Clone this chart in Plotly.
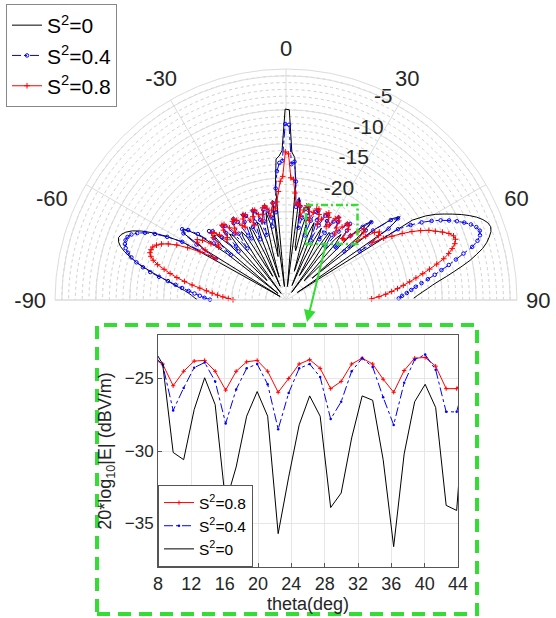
import plotly.graph_objects as go

W, H = 556, 618
FONT = "Arial, 'Liberation Sans', sans-serif"

# ---------------- data ----------------
# angular sampling grid (deg), uniform step read from the inset markers
THETA = [round(8.56 + 1.26 * k, 2) for k in range(-78, 65)]

# 20*log10|E| (dBV/m) for each angle
E_S0 = [
    -24.9, -24.5, -24.1, -23.6, -23.0, -22.2, -21.3, -20.4, -19.2, -17.9,
    -16.6, -15.3, -14.2, -13.2, -12.4, -11.9, -11.7, -11.9, -12.4, -13.2,
    -14.4, -16.0, -18.0, -20.5, -37.0, -24.0, -20.2, -19.6, -20.6, -22.5,
    -27.0, -36.5, -25.5, -23.8, -24.0, -26.5, -34.0, -33.5, -27.5, -25.2,
    -25.8, -29.5, -36.8, -30.5, -26.8, -26.0, -27.2, -32.5, -34.0, -28.0,
    -26.0, -26.6, -30.8, -35.8, -28.5, -25.8, -26.2, -29.0, -34.5, -30.5,
    -26.5, -24.8, -26.5, -31.5, -30.0, -23.2, -36.0, -21.2, -17.2, -16.8,
    -16.0, -9.9, -10.0, -16.2, -17.0, -21.0, -36.0, -22.8, -24.0, -30.1,
    -30.6, -27.15, -24.95, -26.8, -33.6, -31.1, -27.6, -25.9, -27.6, -35.7,
    -31.8, -28.2, -26.2, -27.6, -33.9, -32.9, -29.1, -26.2, -26.5, -30.6,
    -36.6, -30.2, -26.6, -25.4, -27.0, -33.75, -34.1, -24.5, -21.8, -20.8,
    -23.5, -33.0, -21.5, -18.2, -17.2, -19.8, -36.0, -16.0, -14.0, -12.6,
    -11.5, -10.4, -9.3, -8.3, -7.4, -6.7, -6.2, -6.0, -6.2, -6.7,
    -7.3, -8.1, -9.2, -10.3, -11.6, -12.9, -14.1, -15.3, -16.3, -17.1,
    -17.9, -18.6, -19.2,
]
E_S04 = [
    -26.8, -26.0, -25.3, -24.5, -23.6, -22.6, -21.6, -20.4, -19.0, -17.6,
    -16.4, -15.3, -14.4, -13.7, -13.2, -12.9, -12.8, -12.9, -13.3, -14.0,
    -15.0, -16.4, -18.2, -20.5, -26.0, -22.5, -20.0, -19.5, -20.3, -21.8,
    -24.5, -27.5, -24.0, -22.8, -23.2, -24.8, -28.0, -27.2, -24.8, -23.6,
    -23.9, -25.6, -28.5, -26.0, -24.3, -23.8, -24.5, -27.0, -27.6, -25.0,
    -24.0, -24.3, -26.2, -28.3, -25.6, -24.0, -24.2, -25.6, -28.0, -26.0,
    -24.3, -23.9, -24.6, -27.0, -25.8, -23.6, -25.0, -21.5, -19.0, -17.8,
    -17.5, -12.1, -12.2, -18.0, -17.6, -20.5, -24.2, -23.3, -24.05, -27.2,
    -25.65, -24.25, -23.9, -25.2, -28.1, -25.75, -24.3, -24.0, -25.4, -28.5,
    -26.0, -24.3, -24.0, -24.9, -27.8, -26.6, -24.5, -23.6, -24.2, -26.3,
    -28.2, -25.3, -23.7, -23.35, -24.4, -27.3, -27.3, -24.6, -22.4, -21.0,
    -22.4, -26.8, -21.6, -18.6, -17.6, -19.6, -25.0, -18.5, -16.6, -15.0,
    -13.6, -12.4, -11.3, -10.3, -9.4, -8.6, -8.0, -7.7, -7.9, -8.5,
    -9.5, -11.0, -12.3, -13.5, -14.7, -15.8, -16.9, -17.9, -18.8, -19.5,
    -20.2, -20.9, -21.4,
]
E_S08 = [
    -30.2, -29.5, -28.7, -27.9, -27.1, -26.2, -25.2, -24.0, -22.8, -21.6,
    -20.5, -19.5, -18.4, -17.6, -17.1, -16.8, -16.8, -16.9, -17.3, -17.9,
    -18.8, -20.0, -21.6, -23.5, -26.0, -24.0, -22.4, -22.2, -22.9, -24.2,
    -25.4, -25.2, -23.9, -23.3, -23.5, -24.3, -25.6, -25.4, -24.2, -23.5,
    -23.6, -24.5, -25.7, -25.0, -24.0, -23.8, -24.2, -25.3, -25.7, -24.5,
    -23.9, -24.1, -25.1, -26.0, -24.8, -23.9, -24.0, -24.8, -25.9, -24.9,
    -24.0, -23.8, -24.2, -25.4, -24.6, -23.6, -24.5, -23.5, -22.0, -20.5,
    -19.8, -16.2, -16.5, -20.0, -20.2, -22.2, -23.8, -23.6, -24.0, -25.5,
    -24.5, -23.8, -23.75, -24.5, -25.8, -24.5, -23.85, -23.75, -24.5, -25.95,
    -25.0, -24.0, -23.7, -24.3, -25.7, -25.2, -24.0, -23.6, -24.0, -25.05,
    -25.95, -24.45, -23.6, -23.55, -24.15, -25.7, -25.7, -24.6, -23.5, -22.5,
    -22.8, -24.5, -23.0, -21.6, -21.0, -21.4, -22.8, -21.0, -19.8, -18.3,
    -16.9, -15.7, -14.6, -13.8, -12.9, -12.1, -11.6, -11.5, -11.8, -12.4,
    -13.1, -14.0, -15.2, -16.4, -17.5, -18.6, -19.6, -20.6, -21.5, -22.4,
    -23.3, -24.3, -25.4,
]
assert len(THETA) == len(E_S0) == len(E_S04) == len(E_S08)

SERIES_NAMES = ["S<sup>2</sup>=0", "S<sup>2</sup>=0.4", "S<sup>2</sup>=0.8"]
ANG_GRID = [-90, -60, -30, 0, 30, 60, 90]            # spokes
ANG_LABELS = ["-90", "-60", "-30", "0", "30", "60", "90"]
ANG_LABEL_POS = [-90, -65.5, -27, 0, 27, 65.5, 90]   # where MATLAB drew the labels
R_TICKS = [-35, -30, -25, -20, -15, -10, -5]
R_LABELS = [-20, -15, -10, -5]
R_LABEL_ANGLE = 25.7
R_RANGE = [-38, -4]
INSET_X_RANGE = [8, 44]
INSET_X_TICKS = [8, 12, 16, 20, 24, 28, 32, 36, 40, 44]
INSET_Y_RANGE = [-38, -22]
INSET_Y_TICKS = [-35, -30, -25]

# ---------------- helpers (pixel -> paper) ----------------
def px(x):
    return x / W

def py(y):
    return 1 - y / H

GREEN = "#33DD33"
GRID = "#dcdcdc"
TXT = "#262626"

fig = go.Figure()

# dummy trace so the grid-only polar subplot is drawn
fig.add_trace(go.Scatterpolar(r=[R_RANGE[0]], theta=[0], mode="lines",
                              line=dict(width=0), showlegend=False,
                              hoverinfo="skip", subplot="polar"))

# polar traces
fig.add_trace(go.Scatterpolar(r=E_S0, theta=THETA, mode="lines", name=SERIES_NAMES[0],
                              line=dict(color="black", width=1),
                              subplot="polar2", legend="legend"))
fig.add_trace(go.Scatterpolar(r=E_S04, theta=THETA, mode="lines+markers", name=SERIES_NAMES[1],
                              line=dict(color="#0000ff", width=1, dash="dashdot"),
                              marker=dict(symbol="circle-open", size=3.5, color="#0000ff",
                                          line=dict(width=1)),
                              subplot="polar2", legend="legend"))
fig.add_trace(go.Scatterpolar(r=E_S08, theta=THETA, mode="lines+markers", name=SERIES_NAMES[2],
                              line=dict(color="#ff0000", width=1),
                              marker=dict(symbol="cross-thin-open", size=4, color="#ff0000",
                                          line=dict(width=1, color="#ff0000")),
                              subplot="polar2", legend="legend"))

# radial tick labels, centred on their rings like MATLAB draws them
fig.add_trace(go.Scatterpolar(r=R_LABELS, theta=[R_LABEL_ANGLE] * len(R_LABELS),
                              mode="text", text=[str(v) for v in R_LABELS],
                              textposition="middle center",
                              textfont=dict(size=21, color=TXT, family=FONT),
                              showlegend=False, hoverinfo="skip", cliponaxis=False,
                              subplot="polar2"))

# inset (cartesian) traces, order as in inset legend
fig.add_trace(go.Scatter(x=THETA, y=E_S08, mode="lines+markers", name=SERIES_NAMES[2],
                         line=dict(color="#ff0000", width=1),
                         marker=dict(symbol="cross-thin-open", size=3,
                                     line=dict(width=1, color="#ff0000")),
                         xaxis="x", yaxis="y", legend="legend2"))
fig.add_trace(go.Scatter(x=THETA, y=E_S04, mode="lines+markers", name=SERIES_NAMES[1],
                         line=dict(color="#0000ff", width=1, dash="dashdot"),
                         marker=dict(symbol="circle", size=2.5, color="#0000ff"),
                         xaxis="x", yaxis="y", legend="legend2"))
fig.add_trace(go.Scatter(x=THETA, y=E_S0, mode="lines", name=SERIES_NAMES[0],
                         line=dict(color="black", width=1),
                         xaxis="x", yaxis="y", legend="legend2"))

pol_dom = dict(x=[px(286 - 231), px(286 + 231)], y=[py(300), py(300 - 231)])

fig.update_layout(
    width=W, height=H,
    margin=dict(l=0, r=0, t=0, b=0, autoexpand=False),
    paper_bgcolor="white", plot_bgcolor="white",
    font=dict(family=FONT, color=TXT),
    polar=dict(
        domain=pol_dom, sector=[0, 180], bgcolor="white",
        radialaxis=dict(range=R_RANGE, tickmode="linear", tick0=-38, dtick=1,
                        showticklabels=False, ticks="", showline=False,
                        showgrid=True, gridcolor="#cfcfcf", griddash="dot", gridwidth=1),
        angularaxis=dict(rotation=90, direction="clockwise", tickmode="array",
                         tickvals=ANG_GRID, showticklabels=False, ticks="",
                         showgrid=True, gridcolor=GRID, gridwidth=1, showline=False),
    ),
    polar2=dict(
        domain=pol_dom, sector=[0, 180], bgcolor="rgba(0,0,0,0)",
        radialaxis=dict(range=R_RANGE, tickmode="array", tickvals=R_TICKS,
                        showticklabels=False, showline=False, ticks="",
                        showgrid=True, gridcolor=GRID, gridwidth=1),
        angularaxis=dict(rotation=90, direction="clockwise", tickmode="array",
                         tickvals=ANG_LABEL_POS, ticktext=ANG_LABELS,
                         tickfont=dict(size=22, color=TXT),
                         ticks="outside", ticklen=4, tickcolor="rgba(0,0,0,0)",
                         showgrid=False,
                         showline=True, linecolor=GRID, linewidth=1),
    ),
    xaxis=dict(domain=[px(158), px(458)], anchor="y", range=INSET_X_RANGE,
               tickmode="array", tickvals=INSET_X_TICKS,
               tickfont=dict(size=18, color=TXT),
               showgrid=True, gridcolor="#e6e6e6", zeroline=False,
               showline=True, linecolor="#555555", mirror=True,
               ticks="inside", ticklen=4, tickcolor="#555555",
               title=dict(text="theta(deg)", font=dict(size=18, color=TXT), standoff=0)),
    yaxis=dict(domain=[py(567), py(335)], anchor="x", range=INSET_Y_RANGE,
               tickmode="array", tickvals=INSET_Y_TICKS,
               tickfont=dict(size=17, color=TXT),
               showgrid=True, gridcolor="#e6e6e6", zeroline=False,
               showline=True, linecolor="#555555", mirror=True,
               ticks="inside", ticklen=4, tickcolor="#555555",
               title=dict(text="20*log<sub>10</sub>|E| (dBV/m)",
                          font=dict(size=18, color=TXT), standoff=8)),
    legend=dict(x=px(6), y=py(4), xanchor="left", yanchor="top",
                bgcolor="white", bordercolor="#888888", borderwidth=1,
                font=dict(size=21, family=FONT, color="black"), itemwidth=30,
                tracegroupgap=0),
    legend2=dict(x=px(158), y=py(567), xanchor="left", yanchor="bottom",
                 bgcolor="white", bordercolor="#555555", borderwidth=1,
                 font=dict(size=15.5, family=FONT, color="black"), itemwidth=30),
    shapes=[
        dict(type="rect", xref="paper", yref="paper",
             x0=px(97), x1=px(477), y0=py(614), y1=py(325),
             line=dict(color=GREEN, width=4, dash="13px,8px")),
        dict(type="rect", xref="paper", yref="paper",
             x0=px(306), x1=px(357.5), y0=py(244), y1=py(205),
             line=dict(color=GREEN, width=2.5, dash="7px,3px,2px,3px")),
    ],
    annotations=[
        dict(x=px(307), y=py(322), xref="paper", yref="paper", text="",
             showarrow=True, ax=19, ay=-78, arrowhead=2, arrowsize=1.2,
             arrowwidth=2, arrowcolor=GREEN),
    ],
)

fig.write_html("out.html",
               config={"displayModeBar": False},
               post_script="document.body.style.margin='0';"
                           "document.body.style.overflow='hidden';")
